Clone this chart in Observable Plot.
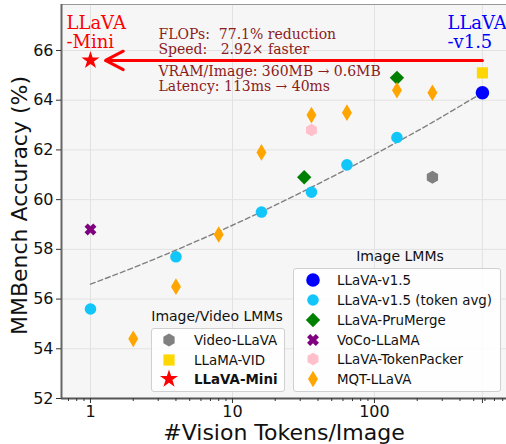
<!DOCTYPE html>
<html>
<head>
<meta charset="utf-8">
<script src="https://cdn.jsdelivr.net/npm/d3@7"></script>
<script src="https://cdn.jsdelivr.net/npm/@observablehq/plot@0.6"></script>
<style>
  body { margin: 0; background: white; font-family: "DejaVu Sans", sans-serif; }
  #wrap { position: relative; width: 506px; height: 444px; overflow: hidden; }
  .legend { position: absolute; font-family: "DejaVu Sans", sans-serif; color: #111; }
  .legend .title { position: absolute; white-space: nowrap; font-size: 14px; transform: translate(-50%, -50%); }
  .legend .box { position: absolute; background: rgba(255,255,255,0.85); border: 1px solid #d0d0d0; border-radius: 3px; box-sizing: border-box; }
  .legend .row { position: absolute; white-space: nowrap; font-size: 13.4px; transform: translateY(-50%); }
  .legend svg { position: absolute; overflow: visible; }
</style>
</head>
<body>
<div id="wrap"></div>
<script>
// ---------- data ----------
const llavaX = [576];            const llavaY = [64.3];
const tokenAvgX = [1, 4, 16, 36, 64, 144];
const tokenAvgY = [55.6, 57.7, 59.5, 60.3, 61.4, 62.5];
const pruMergeX = [32, 144];     const pruMergeY = [60.9, 64.9];
const vocoX = [1];               const vocoY = [58.8];
const tokenPackerX = [36];       const tokenPackerY = [62.8];
const mqtX = [2, 4, 8, 16, 36, 64, 144, 256];
const mqtY = [54.4, 56.5, 58.6, 61.9, 63.4, 63.5, 64.4, 64.3];
const videoLlavaX = [256];       const videoLlavaY = [60.9];
const llamaVidX = [576];         const llamaVidY = [65.1];
const miniX = [1];               const miniY = [65.6];
// dashed trend line, read along its path
const trendX = [1, 2, 4, 8, 16, 32, 64, 128, 256, 576];
const trendY = [56.6, 57.26, 57.97, 58.72, 59.51, 60.35, 61.23, 62.15, 63.11, 64.3];

const xTicks = [1, 10, 100, 576];
const yTicks = [52, 54, 56, 58, 60, 62, 64, 66];
const xDomain = [0.625, 851];
const yDomain = [52, 67.85];

const annTop = "FLOPs:\u00a0 77.1% reduction\nSpeed:\u00a0\u00a0 2.92× faster";
const annBottom = "VRAM/Image: 360MB → 0.6MB\nLatency: 113ms → 40ms";

// ---------- symbols ----------
const R = s => Math.sqrt(s / Math.PI);
const sym = {
  circle: {draw(c, s){ const r = R(s); c.moveTo(r, 0); c.arc(0, 0, r, 0, 2*Math.PI); }},
  diamond: {draw(c, s){ const r = R(s); c.moveTo(0,-r); c.lineTo(r,0); c.lineTo(0,r); c.lineTo(-r,0); c.closePath(); }},
  thinDiamond: {draw(c, s){ const r = R(s), w = r*0.6; c.moveTo(0,-r); c.lineTo(w,0); c.lineTo(0,r); c.lineTo(-w,0); c.closePath(); }},
  square: {draw(c, s){ const r = R(s); c.rect(-r,-r,2*r,2*r); }},
  hexagon: {draw(c, s){ const r = R(s); for (let k=0;k<6;k++){ const a=-Math.PI/2+k*Math.PI/3; const px=r*Math.cos(a), py=r*Math.sin(a); k?c.lineTo(px,py):c.moveTo(px,py);} c.closePath(); }},
  star: {draw(c, s){ const r = R(s), ri = r*0.382; for (let k=0;k<10;k++){ const a=-Math.PI/2+k*Math.PI/5; const rr=k%2?ri:r; const px=rr*Math.cos(a), py=rr*Math.sin(a); k?c.lineTo(px,py):c.moveTo(px,py);} c.closePath(); }},
  fatX: {draw(c, s){ const r = R(s), a = r*0.36;
    const pts=[[-a,-r],[a,-r],[a,-a],[r,-a],[r,a],[a,a],[a,r],[-a,r],[-a,a],[-r,a],[-r,-a],[-a,-a]];
    const cs=Math.SQRT1_2; pts.forEach(([x,y],i)=>{const px=(x-y)*cs, py=(x+y)*cs; i?c.lineTo(px,py):c.moveTo(px,py);}); c.closePath(); }}
};

const COL = {
  llava: "#0000ff", tokenAvg: "#12c6fa", pru: "#008000", voco: "#800080",
  packer: "#ffc0cb", mqt: "#ffa500", video: "#808080", vid: "#ffd700", mini: "#ff0000"
};

const pts = (xs, ys) => xs.map((x, i) => ({x, y: ys[i]}));

const series = [
  {name: "LLaVA-v1.5", d: pts(llavaX, llavaY), fill: COL.llava, symbol: sym.circle, r: 6.8},
  {name: "LLaVA-v1.5 (token avg)", d: pts(tokenAvgX, tokenAvgY), fill: COL.tokenAvg, symbol: sym.circle, r: 5.8},
  {name: "LLaVA-PruMerge", d: pts(pruMergeX, pruMergeY), fill: COL.pru, symbol: sym.diamond, r: 7.2},
  {name: "VoCo-LLaMA", d: pts(vocoX, vocoY), fill: COL.voco, symbol: sym.fatX, r: 6.2},
  {name: "LLaVA-TokenPacker", d: pts(tokenPackerX, tokenPackerY), fill: COL.packer, symbol: sym.hexagon, r: 6.3},
  {name: "MQT-LLaVA", d: pts(mqtX, mqtY), fill: COL.mqt, symbol: sym.thinDiamond, r: 8.3},
  {name: "Video-LLaVA", d: pts(videoLlavaX, videoLlavaY), fill: COL.video, symbol: sym.hexagon, r: 6.5},
  {name: "LLaMA-VID", d: pts(llamaVidX, llamaVidY), fill: COL.vid, symbol: sym.square, r: 5.6},
  {name: "LLaVA-Mini", d: pts(miniX, miniY), fill: COL.mini, symbol: sym.star, r: 9.5}
];

const minorTicks = [];
for (const p of [0.1, 1, 10, 100]) for (let k = 2; k <= 9; k++) {
  const v = k * p; if (v > xDomain[0] && v < xDomain[1] && v !== 576) minorTicks.push(+v.toPrecision(3));
}

const miniPt = pts(miniX, miniY);
const arrowData = [{x1: llavaX[0], x2: miniX[0], y: miniY[0]}];
const blueLabel = [{x: llavaX[0], y: miniY[0]}];

const chart = Plot.plot({
  width: 506, height: 444,
  marginLeft: 61, marginRight: 0, marginTop: 4, marginBottom: 46,
  x: {type: "log", domain: xDomain},
  y: {domain: yDomain},
  style: {fontFamily: "DejaVu Sans", background: "white", color: "#111"},
  marks: [
    Plot.frame({fill: "#f6f6f6", stroke: null}),
    Plot.gridX({ticks: xTicks, stroke: "#e2e2e2", strokeOpacity: 1, strokeWidth: 1}),
    Plot.gridY({ticks: yTicks, stroke: "#e2e2e2", strokeOpacity: 1, strokeWidth: 1}),
    Plot.ruleY([yDomain[1]], {stroke: "#999", strokeWidth: 1}),
    Plot.ruleX([xDomain[0]], {stroke: "#666", strokeWidth: 2}),
    Plot.ruleY([yDomain[0]], {stroke: "#555", strokeWidth: 2}),
    Plot.ruleX(minorTicks, {x: d => d, y1: () => yDomain[0], y2: () => yDomain[0], insetBottom: -3, stroke: "#333", strokeWidth: 1}),
    Plot.axisX({ticks: xTicks, tickSize: 5, tickPadding: 2, tickFormat: d => String(d), fontSize: 16, label: null, stroke: "#333"}),
    Plot.axisY({ticks: yTicks, tickSize: 5, tickPadding: 3, tickFormat: d => String(d), fontSize: 16, label: null, stroke: "#333"}),
    Plot.text(["#Vision Tokens/Image"], {frameAnchor: "bottom", dy: 41, fontSize: 22, fill: "#111"}),
    Plot.text(["MMBench Accuracy (%)"], {frameAnchor: "left", textAnchor: "middle", rotate: -90, dx: -42, dy: 4, fontSize: 22, fill: "#111"}),
    Plot.line(pts(trendX, trendY), {x: "x", y: "y", curve: "natural", stroke: "#808080", strokeWidth: 1.4, strokeDasharray: "5,3"}),
    ...series.map(s => Plot.dot(s.d, {x: "x", y: "y", fill: s.fill, stroke: null, symbol: s.symbol, r: s.r})),
    Plot.arrow(arrowData, {x1: "x1", x2: "x2", y1: "y", y2: "y", stroke: "#ff0000", strokeWidth: 3, insetEnd: 15, headLength: 10, headAngle: 55}),
    Plot.text(miniPt, {x: "x", y: "y", text: () => "LLaVA\n-Mini", textAnchor: "start", lineAnchor: "bottom", dx: -24, dy: -12, fill: "#ff0000", fontSize: 18, fontFamily: "DejaVu Serif", lineHeight: 1.1}),
    Plot.text(blueLabel, {x: "x", y: "y", text: () => "LLaVA\n-v1.5", textAnchor: "start", lineAnchor: "bottom", dx: -35, dy: -12, fill: "#0000ff", fontSize: 18, fontFamily: "DejaVu Serif", lineHeight: 1.1}),
    Plot.text(miniPt, {x: "x", y: "y", text: () => annTop, textAnchor: "start", lineAnchor: "bottom", dx: 68, dy: -6, fill: "#8b1c1c", fontSize: 14, fontFamily: "DejaVu Serif", lineHeight: 1.12}),
    Plot.text(miniPt, {x: "x", y: "y", text: () => annBottom, textAnchor: "start", lineAnchor: "top", dx: 68, dy: 4, fill: "#8b1c1c", fontSize: 14, fontFamily: "DejaVu Serif", lineHeight: 1.12})
  ]
});

const wrap = document.getElementById("wrap");
wrap.appendChild(chart);

// ---------- legends (overlaid inside the plot) ----------
function addLegend(cfg) {
  const L = document.createElement("div");
  L.className = "legend";
  L.style.left = "0px"; L.style.top = "0px";
  const t = document.createElement("div");
  t.className = "title"; t.textContent = cfg.title;
  t.style.left = cfg.titleX + "px"; t.style.top = cfg.titleY + "px";
  L.appendChild(t);
  const box = document.createElement("div");
  box.className = "box";
  Object.assign(box.style, {left: cfg.box[0] + "px", top: cfg.box[1] + "px", width: (cfg.box[2] - cfg.box[0]) + "px", height: (cfg.box[3] - cfg.box[1]) + "px"});
  L.appendChild(box);
  cfg.items.forEach((s, i) => {
    const yy = cfg.rows[i];
    const svg = d3.create("svg").attr("width", 1).attr("height", 1)
      .style("left", cfg.markX + "px").style("top", yy + "px");
    svg.append("path").attr("d", d3.symbol(s.symbol, s.r * s.r * Math.PI)()).attr("fill", s.fill);
    L.appendChild(svg.node());
    const row = document.createElement("div");
    row.className = "row"; row.textContent = s.name;
    row.style.left = cfg.textX + "px"; row.style.top = yy + "px";
    if (s.bold) row.style.fontWeight = "bold";
    L.appendChild(row);
  });
  wrap.appendChild(L);
}
const byName = n => series.find(s => s.name === n);
addLegend({
  title: "Image LMMs", titleX: 400, titleY: 256,
  box: [293, 268, 501, 392], markX: 313, textX: 337,
  rows: [280, 300, 320, 340, 359, 379],
  items: ["LLaVA-v1.5", "LLaVA-v1.5 (token avg)", "LLaVA-PruMerge", "VoCo-LLaMA", "LLaVA-TokenPacker", "MQT-LLaVA"].map(byName)
});
addLegend({
  title: "Image/Video LMMs", titleX: 217, titleY: 316,
  box: [151, 328, 285, 392], markX: 169, textX: 194,
  rows: [340, 360, 379],
  items: [byName("Video-LLaVA"), byName("LLaMA-VID"), {...byName("LLaVA-Mini"), bold: true}]
});
</script>
</body>
</html>
